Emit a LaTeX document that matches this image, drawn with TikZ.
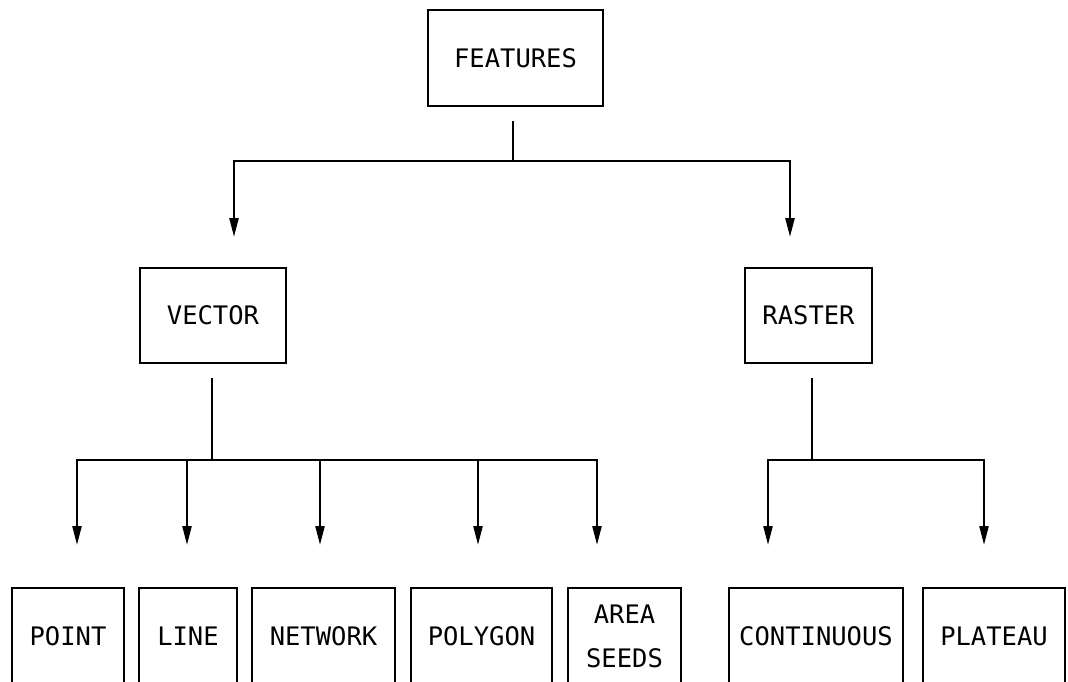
\documentclass[tikz,border=0pt]{standalone}
\usepackage{fontspec}
\newfontfamily\plotfont{DejaVu Sans Mono}
\usetikzlibrary{arrows.meta}
\tikzset{
  box/.style={draw, line width=2.2pt, inner sep=0pt, outer sep=0pt, align=center,
    font=\plotfont\fontsize{25.5pt}{44pt}\selectfont},
  wire/.style={line width=2.4pt},
  arrow/.style={line width=2.4pt, -{Triangle[length=19pt,width=9pt]}},
}
\begin{document}
\begin{tikzpicture}[x=1pt,y=-1pt]
\fill[white] (0,0) rectangle (1068,682);
\useasboundingbox (0,0) rectangle (1068,682);
\clip (0,0) rectangle (1068,682);

% boxes
\node[box, minimum width=175pt, minimum height=96pt] (features) at (515.5,58) {FEATURES};
\node[box, minimum width=146pt, minimum height=95pt] (vector) at (213,315.5) {VECTOR};
\node[box, minimum width=127pt, minimum height=95pt] (raster) at (808.5,315.5) {RASTER};

\node[box, minimum width=112pt, minimum height=96pt] (point) at (68,636) {POINT};
\node[box, minimum width=98pt, minimum height=96pt] (line) at (188,636) {LINE};
\node[box, minimum width=143pt, minimum height=96pt] (network) at (323.5,636) {NETWORK};
\node[box, minimum width=141pt, minimum height=96pt] (polygon) at (481.5,636) {POLYGON};
\node[box, minimum width=113pt, minimum height=96pt] (area) at (624.5,636) {AREA\\SEEDS};
\node[box, minimum width=174pt, minimum height=96pt] (continuous) at (816,636) {CONTINUOUS};
\node[box, minimum width=142pt, minimum height=96pt] (plateau) at (994,636) {PLATEAU};

% connector coordinates
\coordinate (fstem) at (513,121);
\coordinate (fbar) at (513,161);
\coordinate (vtip) at (234,237);
\coordinate (rtip) at (790,237);

\coordinate (vstem) at (212,378);
\coordinate (vbar) at (212,460);
\coordinate (t1) at (77,545);
\coordinate (t2) at (187,545);
\coordinate (t3) at (320,545);
\coordinate (t4) at (478,545);
\coordinate (t5) at (597,545);

\coordinate (rstem) at (812,378);
\coordinate (rbar) at (812,460);
\coordinate (t6) at (768,545);
\coordinate (t7) at (984,545);

% connectors
\draw[wire] (fstem) -- (fbar);
\draw[arrow] (fbar) -| (vtip);
\draw[arrow] (fbar) -| (rtip);

\draw[wire] (vstem) -- (vbar);
\foreach \t in {t1,t2,t3,t4,t5} \draw[arrow] (vbar) -| (\t);

\draw[wire] (rstem) -- (rbar);
\foreach \t in {t6,t7} \draw[arrow] (rbar) -| (\t);
\end{tikzpicture}
\end{document}
